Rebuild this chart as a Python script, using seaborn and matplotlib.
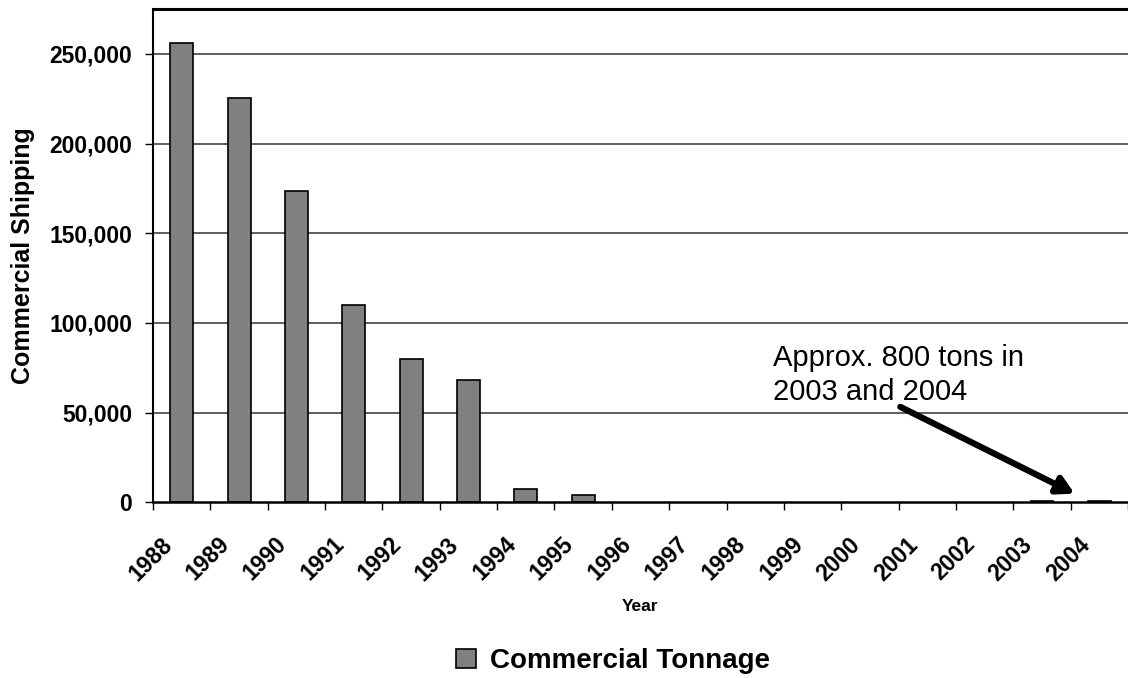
import matplotlib
matplotlib.use("Agg")
import matplotlib.pyplot as plt
import matplotlib.ticker as mticker
import matplotlib.transforms as mtransforms
import seaborn as sns
import pandas as pd

years = [str(y) for y in range(1988, 2005)]
tonnage = [256300, 225400, 173500, 110000, 80000, 68200, 7300, 4100,
           0, 0, 0, 0, 0, 0, 0, 800, 800]
yticks = [0, 50000, 100000, 150000, 200000, 250000]
note = "Approx. 800 tons in\n2003 and 2004"

sns.set_style("white")
plt.rcParams['font.family'] = ['Liberation Sans', 'DejaVu Sans']
plt.rcParams['text.color'] = 'black'
plt.rcParams['axes.labelcolor'] = 'black'
plt.rcParams['xtick.color'] = 'black'
plt.rcParams['ytick.color'] = 'black'

df = pd.DataFrame({'Year': years, 'Tonnage': tonnage})

fig = plt.figure(figsize=(11.28, 6.78), dpi=100)
ax = fig.add_axes([153 / 1128, (678 - 502.3) / 678, (1128 - 153) / 1128, (502.3 - 9) / 678])

sns.barplot(data=df, x='Year', y='Tonnage', color='#808080', saturation=1,
            edgecolor='black', linewidth=1.2, width=0.4,
            label='Commercial Tonnage', ax=ax)

# zero-height bars are not drawn in the original
for p in ax.patches:
    if p.get_height() == 0:
        p.set_linewidth(0)

ax.set_xlim(-0.5, 16.35)
ax.set_ylim(0, 275000)

# grid lines
ax.set_yticks(yticks)
ax.yaxis.set_major_formatter(mticker.StrMethodFormatter('{x:,.0f}'))
for v in yticks[1:]:
    ax.axhline(v, color='#333333', linewidth=1.1, zorder=0)

# spines
for s in ['left', 'bottom', 'top']:
    ax.spines[s].set_visible(True)
    ax.spines[s].set_color('black')
ax.spines['left'].set_linewidth(1.5)
ax.spines['bottom'].set_linewidth(1.8)
ax.spines['top'].set_linewidth(2.2)
ax.spines['right'].set_visible(False)

# ticks
ax.tick_params(axis='y', direction='out', length=6, width=1, pad=9,
               labelsize=16.5, left=True)
for lbl in ax.get_yticklabels():
    lbl.set_fontweight('bold')

ax.set_xticks([i - 0.5 for i in range(len(years) + 1)], minor=True)
ax.tick_params(axis='x', which='minor', direction='out', length=6, width=1, bottom=True)
ax.tick_params(axis='x', which='major', length=0, pad=22, labelsize=16.5)
ax.set_xticks(range(len(years)))
ax.set_xticklabels(years, rotation=45, ha='right', fontweight='bold')
shift = mtransforms.ScaledTranslation(-5 / 100, 0, fig.dpi_scale_trans)
for lbl in ax.get_xticklabels():
    lbl.set_transform(lbl.get_transform() + shift)

ax.set_xlabel('Year', fontsize=12.5, fontweight='bold', labelpad=10)
ax.set_ylabel('Commercial Shipping', fontsize=18, fontweight='bold', labelpad=10)

# annotation
ax.annotate('', xy=(15.57, 4800), xytext=(12.53, 53200),
            arrowprops=dict(arrowstyle='-|>,head_length=1.0,head_width=0.55',
                            color='black', lw=4.5, shrinkA=0, shrinkB=0))
ax.text(10.31, 88500, note, fontsize=21, va='top', ha='left', linespacing=1.3)

ax.legend(loc='center', bbox_to_anchor=(613 / 1128, (678 - 661) / 678),
          bbox_transform=fig.transFigure, frameon=False,
          prop={'weight': 'bold', 'size': 20},
          handlelength=0.7, handleheight=0.7, handletextpad=0.5)

fig.savefig('out.png', dpi=100)
